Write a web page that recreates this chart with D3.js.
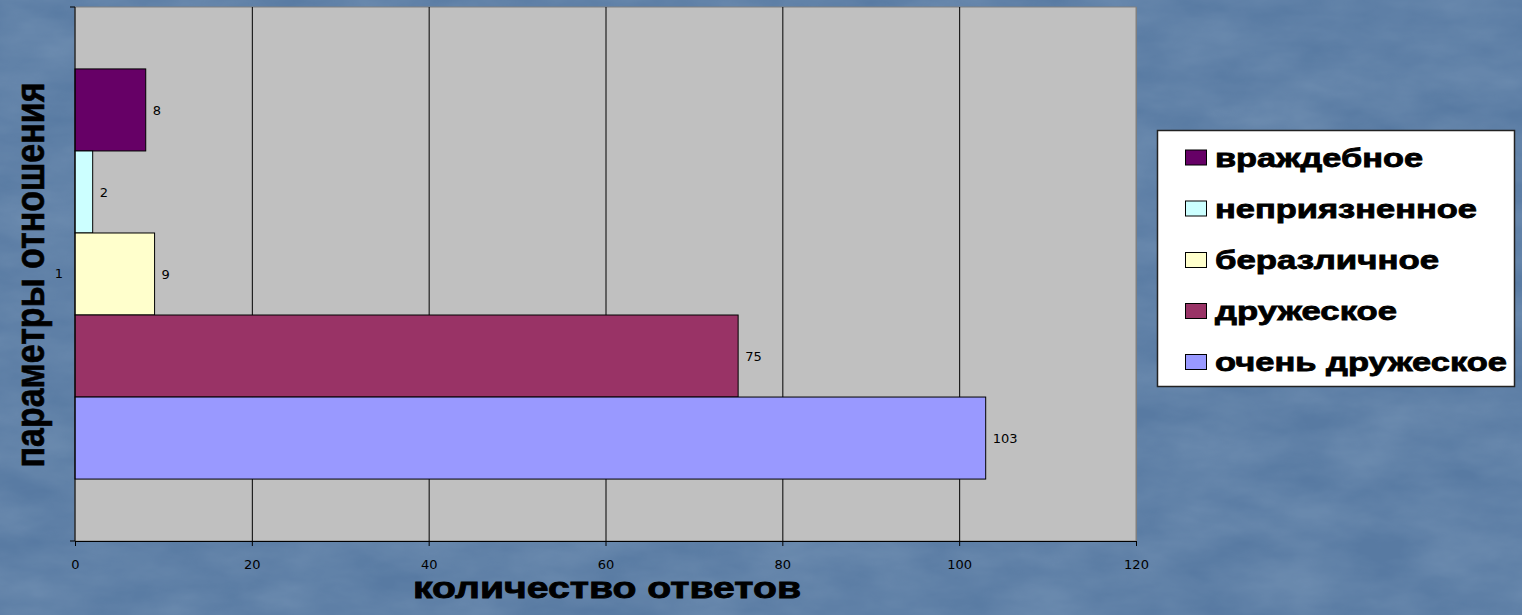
<!DOCTYPE html>
<html><head><meta charset="utf-8">
<script src="https://cdn.jsdelivr.net/npm/d3@7"></script>
<style>html,body{margin:0;padding:0;overflow:hidden;background:#5b7ba3}</style>
</head><body>
<svg id="c" width="1522" height="615"></svg>
<script>
const categories = ["1"];
const seriesNames = ["враждебное","неприязненное","беразличное","дружеское","очень  дружеское"];
const seriesValues = [8, 2, 9, 75, 103];
const seriesColors = ["#660066","#CCFFFF","#FFFFCC","#993366","#9999FF"];
const xTicks = [0,20,40,60,80,100,120];
const legendTextWidths = [208, 262, 224, 182, 292];

const svg = d3.select("#c");
const W = 1522, H = 615;
const defs = svg.append("defs");
const f = defs.append("filter").attr("id","tex").attr("x",0).attr("y",0).attr("width","100%").attr("height","100%");
f.append("feTurbulence").attr("type","fractalNoise").attr("baseFrequency","0.012 0.03").attr("numOctaves",4).attr("seed",3).attr("result","n");
f.append("feColorMatrix").attr("in","n").attr("type","matrix")
 .attr("values","0 0 0 0 0.36  0 0 0 0 0.49  0 0 0 0 0.65  0.6 0 0 0 -0.1").attr("result","c");
svg.append("rect").attr("width",W).attr("height",H).attr("fill","#587aa2");
svg.append("rect").attr("width",W).attr("height",H).attr("fill","#6c8cb2").attr("filter","url(#tex)").attr("opacity",0.6);

const L = 75, R = 1136, T = 7, B = 541;
const x = d3.scaleLinear().domain([0,120]).range([L,R]);
const y = d3.scaleBand().domain(categories).range([T,B]).paddingInner(0).paddingOuter(0.151);
const ys = d3.scaleBand().domain(seriesNames).range([y("1"), y("1")+y.bandwidth()]);

svg.append("rect").attr("x",L).attr("y",T).attr("width",R-L).attr("height",B-T).attr("fill","#C0C0C0").attr("stroke","#808080").attr("stroke-width",1);

svg.append("g").selectAll("line").data(xTicks.slice(1)).join("line")
  .attr("x1",d=>x(d)+0.5).attr("x2",d=>x(d)+0.5).attr("y1",T).attr("y2",B)
  .attr("stroke",(d,i)=> d===120 ? "#808080" : "#000").attr("stroke-width",1);

const g = svg.append("g");
g.selectAll("rect").data(seriesNames).join("rect")
  .attr("x",L).attr("y",d=>ys(d)).attr("width",(d,i)=>x(seriesValues[i])-L).attr("height",ys.bandwidth())
  .attr("fill",(d,i)=>seriesColors[i]).attr("stroke","#000").attr("stroke-width",1);

g.selectAll("text").data(seriesNames).join("text")
  .attr("x",(d,i)=>x(seriesValues[i])+7).attr("y",d=>ys(d)+ys.bandwidth()/2+5)
  .attr("font-family","DejaVu Sans").attr("font-size",13).attr("fill","#000")
  .text((d,i)=>seriesValues[i]);

// x axis
const xa = svg.append("g").attr("transform",`translate(0,${B})`)
  .call(d3.axisBottom(x).tickValues(xTicks).tickSize(5).tickPadding(14));
xa.select(".domain").attr("stroke","#000");
xa.selectAll(".tick line").attr("stroke","#000");
xa.selectAll("text").attr("font-family","DejaVu Sans").attr("font-size",13).attr("fill","#000");

// y axis
const ya = svg.append("g").attr("transform",`translate(${L},0)`)
  .call(d3.axisLeft(y).tickSize(0).tickPadding(12));
ya.select(".domain").attr("stroke","#000").attr("d",`M-5,${T}H0V${B}H-5`);
ya.selectAll("text").attr("font-family","DejaVu Sans").attr("font-size",13).attr("fill","#000");

// titles
svg.append("text").attr("x",607).attr("y",598).attr("text-anchor","middle")
  .attr("font-family","Liberation Sans, Arial").attr("font-weight","bold").attr("font-size",29)
  .attr("textLength",388).attr("lengthAdjust","spacingAndGlyphs")
  .attr("stroke","#000").attr("stroke-width",0.8)
  .attr("fill","#000").text("количество ответов");
svg.append("text").attr("transform","translate(44,275) rotate(-90)").attr("text-anchor","middle")
  .attr("font-family","Liberation Sans, Arial").attr("font-weight","bold").attr("font-size",40)
  .attr("textLength",385).attr("lengthAdjust","spacingAndGlyphs")
  .attr("stroke","#000").attr("stroke-width",0.6)
  .attr("fill","#000").text("параметры отношения");

// legend
const lg = svg.append("g");
lg.append("rect").attr("x",1157.5).attr("y",130.5).attr("width",357).attr("height",256).attr("fill","#fff").attr("stroke","#222").attr("stroke-width",1.5);
const ly = [157.5,208.5,260,311,362];
const it = lg.selectAll("g.it").data(seriesNames).join("g").attr("class","it")
  .attr("transform",(d,i)=>`translate(1185,${ly[i]})`);
it.append("rect").attr("x",0.5).attr("y",-7.5).attr("width",21).attr("height",15).attr("fill",(d,i)=>seriesColors[i]).attr("stroke","#000");
it.append("text").attr("x",30).attr("y",9).attr("font-family","Liberation Sans, Arial").attr("font-weight","bold").attr("font-size",26)
  .attr("textLength",(d,i)=>legendTextWidths[i]).attr("lengthAdjust","spacingAndGlyphs")
  .attr("stroke","#000").attr("stroke-width",0.8)
  .attr("fill","#000").text(d=>d);
</script>
</body></html>
